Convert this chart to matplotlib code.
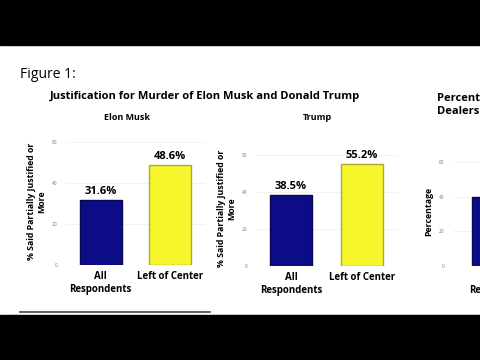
import matplotlib.pyplot as plt

# data
groups = ["All\nRespondents", "Left of Center"]
musk_vals = [31.6, 48.6]
trump_vals = [38.5, 55.2]
dealer_vals = [40.0, 52.0]
yticks = [0, 20, 40, 60]
colors = ["#0c0c86", "#f6f62c"]
edges = ["#080850", "#a8a83a"]

W, H = 480, 360
fig = plt.figure(figsize=(4.8, 3.6), dpi=100)
fig.patch.set_facecolor("white")
plt.rcParams["font.family"] = ["Open Sans", "DejaVu Sans"]


def px_axes(x0, y0, x1, y1):
    # pixel box (top-left origin) -> figure fraction
    return fig.add_axes([x0 / W, (H - y1) / H, (x1 - x0) / W, (y1 - y0) / H])


def panel(ax, vals, ylabel, show_values=True):
    bars = ax.bar(range(len(vals)), vals, width=0.6, color=colors,
                  edgecolor=edges, linewidth=1.0, zorder=3)
    ax.set_xlim(-0.5, 1.5)
    ax.set_ylim(0, 62)
    ax.set_yticks(yticks)
    ax.set_yticklabels([str(t) for t in yticks], fontsize=3.5, color="#777777")
    ax.tick_params(axis="y", length=0, pad=6)
    ax.set_xticks(range(len(vals)))
    ax.set_xticklabels(groups, fontsize=7, fontweight="bold", linespacing=1.3)
    ax.tick_params(axis="x", length=0, pad=4)
    for s in ax.spines.values():
        s.set_visible(False)
    ax.grid(axis="y", color="#f0f0f0", linewidth=0.6, zorder=0)
    ax.set_ylabel(ylabel, fontsize=6.3, fontweight="bold", labelpad=4,
                  linespacing=1.15)
    if show_values:
        for b, v in zip(bars, vals):
            ax.text(b.get_x() + b.get_width() / 2, v + 1.5, f"{v}%",
                    ha="center", va="bottom", fontsize=8, fontweight="bold")


ylab = "% Said Partially Justified or\nMore"

ax1 = px_axes(66, 138, 205, 265)
panel(ax1, musk_vals, ylab)

ax2 = px_axes(255.5, 151, 397.5, 266)
panel(ax2, trump_vals, ylab)

ax3 = px_axes(453, 157, 643, 266)
panel(ax3, dealer_vals, "Percentage")
ax3.set_ylim(0, 63)

# black letterbox bars
fig.patches.append(plt.Rectangle((0, 1 - 45 / H), 1, 45 / H, transform=fig.transFigure,
                                 color="black", zorder=10))
fig.patches.append(plt.Rectangle((0, 0), 1, 45 / H, transform=fig.transFigure,
                                 color="black", zorder=10))

# texts
fig.text(20 / W, 1 - 75 / H, "Figure 1:", fontsize=10, va="center", ha="left")
fig.text(205 / W, 1 - 97 / H, "Justification for Murder of Elon Musk and Donald Trump",
         fontsize=8, fontweight="bold", ha="center", va="center")
fig.text(127 / W, 1 - 118 / H, "Elon Musk", fontsize=6.5, fontweight="bold",
         ha="center", va="center")
fig.text(317 / W, 1 - 118 / H, "Trump", fontsize=6.5, fontweight="bold",
         ha="center", va="center")
fig.text(437 / W, 1 - 105 / H, "Percentage\nDealerships", fontsize=8,
         fontweight="bold", ha="left", va="center", linespacing=1.2)

# separator line
fig.add_artist(plt.Line2D([20 / W, 210 / W], [1 - 312 / H, 1 - 312 / H],
                          transform=fig.transFigure, color="#444444", linewidth=1.2))

fig.savefig("out.png", dpi=100)
